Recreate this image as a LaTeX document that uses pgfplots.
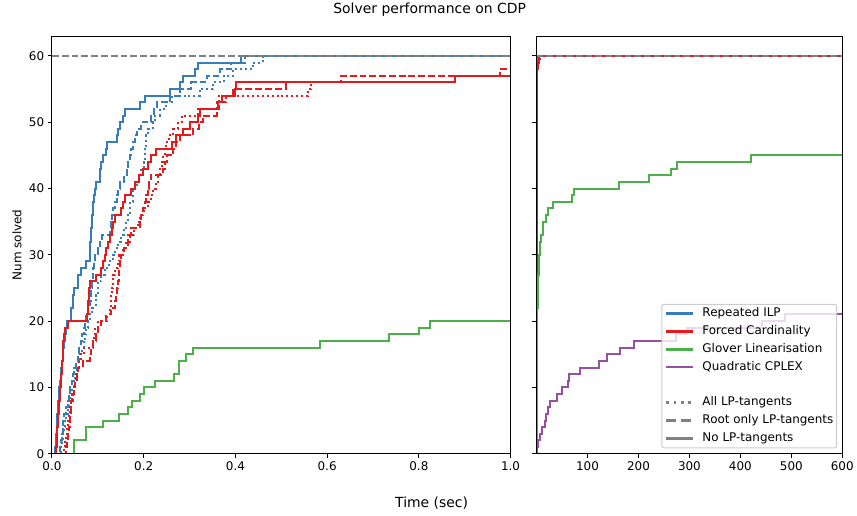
\documentclass[border=0pt]{standalone}
\usepackage{fontspec}
\setmainfont{DejaVu Sans}
\usepackage{pgfplots}
\pgfplotsset{compat=1.18}
\usepackage{pgfplotstable}

\definecolor{cblue}{HTML}{377EB8}
\definecolor{cred}{HTML}{E41A1C}
\definecolor{cgreen}{HTML}{4DAF4A}
\definecolor{cpurple}{HTML}{984EA3}
\definecolor{cgrey}{HTML}{808080}
\definecolor{cframe}{HTML}{CCCCCC}

% Repeated ILP, no LP-tangents
\pgfplotstableread{
t n
0 0
0.007 1
0.008 2
0.009 3
0.010 4
0.011 5
0.012 6
0.013 7
0.014 8
0.0145 9
0.016 10
0.017 11
0.019 12
0.020 13
0.022 14
0.023 15
0.025 16
0.026 17
0.028 18
0.031 19
0.033 20
0.042 22
0.045 24
0.048 25
0.057 27
0.064 28
0.075 29
0.083 31
0.084 32
0.085 33
0.086 34
0.087 35
0.088 36
0.089 37
0.090 38
0.091 39
0.093 40
0.096 41
0.105 43
0.108 44
0.112 45
0.117 46
0.119 47
0.141 48
0.145 49
0.149 50
0.155 51
0.159 52
0.192 53
0.203 54
0.257 55
0.279 56
0.286 57
0.312 58
0.319 59
0.413 60
600 60
}\ilpnone

% Repeated ILP, root only
\pgfplotstableread{
t n
0 0
0.018 1
0.019 2
0.021 3
0.023 4
0.025 5
0.027 6
0.030 7
0.034 8
0.037 9
0.040 10
0.043 11
0.046 12
0.049 13
0.053 14
0.057 15
0.060 16
0.063 17
0.066 18
0.069 19
0.071 20
0.075 21
0.078 22
0.084 23
0.085 24
0.086 25
0.087 26
0.089 27
0.090 28
0.091 29
0.093 30
0.100 31
0.105 32
0.110 33
0.126 34
0.128 35
0.130 36
0.133 37
0.137 38
0.141 39
0.145 40
0.148 41
0.156 42
0.163 43
0.166 44
0.170 45
0.172 46
0.176 47
0.180 48
0.186 49
0.195 50
0.217 51
0.222 52
0.228 53
0.257 54
0.280 55
0.304 56
0.337 57
0.366 58
0.390 59
0.420 60
600 60
}\ilproot

% Repeated ILP, all
\pgfplotstableread{
t n
0 0
0.020 1
0.022 2
0.024 3
0.026 4
0.028 5
0.031 6
0.034 7
0.037 8
0.040 9
0.044 10
0.047 11
0.050 12
0.054 13
0.058 14
0.062 15
0.066 16
0.069 17
0.072 18
0.075 19
0.078 20
0.082 21
0.088 22
0.095 24
0.100 26
0.108 27
0.115 28
0.125 29
0.133 30
0.138 31
0.144 32
0.150 33
0.156 34
0.161 35
0.166 36
0.171 38
0.177 40
0.185 41
0.190 42
0.195 43
0.200 44
0.203 46
0.206 48
0.210 49
0.220 50
0.225 51
0.235 52
0.248 53
0.261 54
0.322 55
0.351 56
0.375 57
0.395 58
0.438 59
0.460 60
600 60
}\ilpall

% Forced cardinality, no LP-tangents
\pgfplotstableread{
t n
0 0
0.009 1
0.010 2
0.011 3
0.012 4
0.013 5
0.014 6
0.015 7
0.016 8
0.017 9
0.018 10
0.019 11
0.020 12
0.021 13
0.022 14
0.023 15
0.024 16
0.025 17
0.026 18
0.029 19
0.034 20
0.077 21
0.078 22
0.079 23
0.080 24
0.081 25
0.083 26
0.097 27
0.106 28
0.111 29
0.115 30
0.118 31
0.122 32
0.126 33
0.130 34
0.134 35
0.137 36
0.151 37
0.155 38
0.160 39
0.173 40
0.180 41
0.190 42
0.198 43
0.209 44
0.216 45
0.227 46
0.261 47
0.270 48
0.286 49
0.300 50
0.318 51
0.322 52
0.362 53
0.370 54
0.399 55
0.402 56
0.878 57
1.5 58
3 59
5 60
600 60
}\fcnone

% Forced cardinality, root only
\pgfplotstableread{
t n
0 0
0.031 1
0.033 2
0.035 3
0.037 4
0.039 5
0.040 6
0.041 7
0.042 8
0.045 9
0.048 10
0.050 11
0.054 12
0.057 13
0.068 14
0.082 15
0.085 16
0.090 17
0.096 18
0.100 19
0.106 20
0.118 21
0.128 22
0.138 23
0.140 24
0.142 25
0.144 26
0.146 27
0.147 28
0.149 29
0.151 30
0.158 31
0.166 33
0.172 34
0.191 35
0.195 36
0.198 37
0.202 38
0.205 39
0.209 40
0.212 41
0.215 42
0.243 43
0.246 44
0.250 45
0.264 46
0.270 47
0.280 48
0.308 49
0.320 50
0.330 51
0.359 52
0.365 53
0.380 54
0.395 55
0.510 56
0.631 57
0.976 58
2.5 59
5 60
600 60
}\fcroot

% Forced cardinality, all
\pgfplotstableread{
t n
0 0
0.027 1
0.029 2
0.031 3
0.033 4
0.035 5
0.037 6
0.039 7
0.041 8
0.044 9
0.047 10
0.050 11
0.053 12
0.056 13
0.059 14
0.063 15
0.070 16
0.089 17
0.091 18
0.094 19
0.100 20
0.120 21
0.126 22
0.128 24
0.131 25
0.134 27
0.137 28
0.143 29
0.147 30
0.155 31
0.162 32
0.170 33
0.178 34
0.187 35
0.192 36
0.200 37
0.209 38
0.215 39
0.220 40
0.226 41
0.231 42
0.236 43
0.240 44
0.242 45
0.246 46
0.249 47
0.255 48
0.265 49
0.275 50
0.283 51
0.319 52
0.359 53
0.365 54
0.558 55
0.565 56
0.631 57
1.5 58
3 59
6 60
600 60
}\fcall

% Glover linearisation
\pgfplotstableread{
t n
0 0
0.049 2
0.074 4
0.111 5
0.147 6
0.165 7
0.175 8
0.192 9
0.200 10
0.225 11
0.267 12
0.278 14
0.292 15
0.307 16
0.585 17
0.735 18
0.801 19
0.824 20
1.3 21
1.7 22
2.0 23
2.4 24
2.8 25
3.2 26
3.6 27
4.0 28
4.6 29
5.3 30
6.3 31
7.3 32
8.5 33
12 35
18.3 36
21.6 37
32.7 38
68.6 39
73.9 40
162 41
221 42
263.5 43
275 44
420 45
600 45
}\glover

% Quadratic CPLEX
\pgfplotstableread{
t n
0 0
1.5 1
3 2
7 3
10 4
16.4 5
18.6 6
21.9 7
26.3 8
39.3 9
49 10
60.8 11
64 12
85 13
121.6 14
138 15
163.5 16
191.6 17
273 18
296 19
443 20
487 21
600 21
}\cplex

\pgfplotsset{
  panel/.style={
    scale only axis, height=418bp,
    ymin=0, ymax=63, ytick={0,10,...,60},
    axis on top, clip=true,
    tick align=outside, major tick length=4.3bp,
    xtick pos=bottom, ytick pos=left,
    tick style={black, line width=1bp},
    axis line style={black, line width=1bp},
    ticklabel style={font=\fontsize{12}{14}\selectfont},
    every axis plot/.append style={const plot, no markers, line width=2bp},
  },
  root line/.style={dash pattern=on 6.8bp off 3bp},
  all line/.style={dash pattern=on 2bp off 2.9bp},
}

\begin{document}
\begin{tikzpicture}
\path (0bp,0bp) rectangle (857bp,516bp);

\begin{axis}[panel, at={(52bp,62bp)}, anchor=south west, width=459bp,
  xmin=0, xmax=1, xtick={0,0.2,0.4,0.6,0.8,1.0},
  xticklabels={0.0,0.2,0.4,0.6,0.8,1.0},
  yticklabels={0,10,20,30,40,50,60},
  restrict x to domain*=0:1.1]
  \addplot[cblue, all line] table {\ilpall};
  \addplot[cblue, root line] table {\ilproot};
  \addplot[cblue] table {\ilpnone};
  \addplot[cred, all line] table {\fcall};
  \addplot[cred, root line] table {\fcroot};
  \addplot[cred] table {\fcnone};
  \addplot[cgreen] table {\glover};
  \addplot[cpurple] table {\cplex};
  \addplot[cgrey, root line] coordinates {(0,60) (600,60)};
\end{axis}

\begin{axis}[panel, at={(537bp,62bp)}, anchor=south west, width=306bp,
  xmin=0, xmax=600, xtick={100,200,...,600},
  xticklabels={100,200,300,400,500,600},
  yticklabels={},
  legend image code/.code={\draw[#1] (0bp,0bp) -- (26.7bp,0bp);},
  legend cell align=left,
  legend style={at={(0.983,0.013)}, anchor=south east,
    draw=cframe, line width=1bp, rounded corners=2bp,
    fill=white, fill opacity=0.8, text opacity=1,
    font=\fontsize{12}{14}\selectfont,
    inner xsep=3.3bp, inner ysep=3.5bp, row sep=5.8bp,
    nodes={inner sep=0bp, text height=9bp, text depth=3bp},
    /tikz/every odd column/.append style={column sep=8bp}}]
  \addplot[cblue, all line, forget plot] table {\ilpall};
  \addplot[cblue, root line, forget plot] table {\ilproot};
  \addplot[cblue, forget plot] table {\ilpnone};
  \addplot[cred, all line, forget plot] table {\fcall};
  \addplot[cred, root line, forget plot] table {\fcroot};
  \addplot[cred, forget plot] table {\fcnone};
  \addplot[cgreen, forget plot] table {\glover};
  \addplot[cpurple, forget plot] table {\cplex};
  \addplot[cgrey, root line, forget plot] coordinates {(0,60) (600,60)};

  \addlegendimage{cblue, line width=2.7bp}
  \addlegendentry{Repeated ILP}
  \addlegendimage{cred, line width=2.7bp}
  \addlegendentry{Forced Cardinality}
  \addlegendimage{cgreen, line width=2.7bp}
  \addlegendentry{Glover Linearisation}
  \addlegendimage{cpurple, line width=2.7bp}
  \addlegendentry{Quadratic CPLEX}
  \addlegendimage{empty legend}
  \addlegendentry{}
  \addlegendimage{cgrey, line width=2.7bp, dash pattern=on 2.7bp off 4.5bp}
  \addlegendentry{All LP-tangents}
  \addlegendimage{cgrey, line width=2.7bp, dash pattern=on 10bp off 4.3bp}
  \addlegendentry{Root only LP-tangents}
  \addlegendimage{cgrey, line width=2.7bp}
  \addlegendentry{No LP-tangents}
\end{axis}

\node at (430bp,506bp) {\fontsize{14}{16}\selectfont Solver performance on CDP};
\node at (432bp,13bp) {\fontsize{14}{16}\selectfont Time (sec)};
\node[rotate=90] at (17bp,271bp) {\fontsize{12}{14}\selectfont Num solved};
\end{tikzpicture}
\end{document}
